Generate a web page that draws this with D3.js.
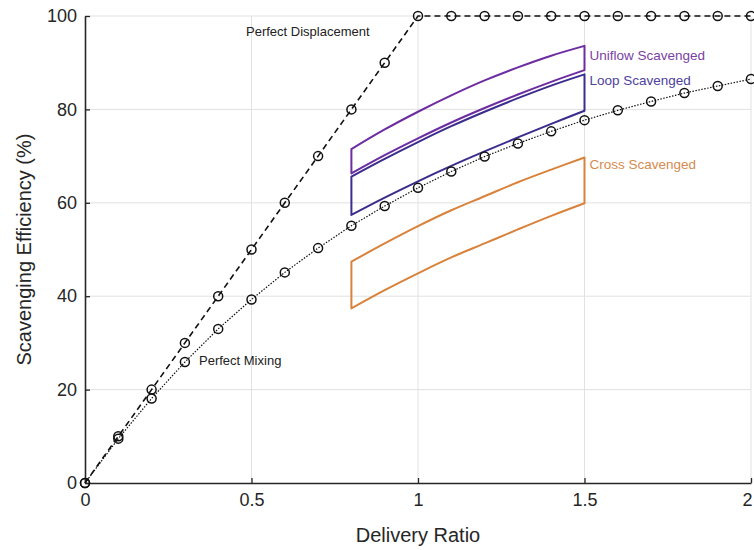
<!DOCTYPE html>
<html>
<head>
<meta charset="utf-8">
<script src="https://cdn.jsdelivr.net/npm/d3@7"></script>
<style>
  body { margin: 0; background: #fff; }
  svg { font-family: "Liberation Sans", Arial, sans-serif; }
</style>
</head>
<body>
<div id="chart"></div>
<script>
// Data
const ratio = [0,0.1,0.2,0.3,0.4,0.5,0.6,0.7,0.8,0.9,1.0,1.1,1.2,1.3,1.4,1.5,1.6,1.7,1.8,1.9,2.0];
const displacement = [0,10,20,30,40,50,60,70,80,90,100,100,100,100,100,100,100,100,100,100,100];
const mixing = [0,9.5,18.1,25.9,33.0,39.3,45.1,50.3,55.1,59.3,63.2,66.7,69.9,72.7,75.3,77.7,79.8,81.7,83.5,85.0,86.5];

const bandX = [0.8,0.9,1.0,1.1,1.2,1.3,1.4,1.5];
const uniflowHigh = [71.5,75.7,79.5,83.0,86.2,89.0,91.5,93.6];
const uniflowLow  = [66.3,70.2,73.8,77.2,80.3,83.2,85.9,88.4];
const loopHigh    = [65.6,69.4,73.0,76.4,79.5,82.4,85.1,87.5];
const loopLow     = [57.4,61.1,64.6,67.9,71.0,74.0,76.9,79.7];
const crossHigh   = [47.4,51.3,55.0,58.4,61.4,64.4,67.1,69.7];
const crossLow    = [37.4,41.3,44.9,48.3,51.3,54.3,57.2,59.9];

const xTicks = [0,0.5,1,1.5,2];
const yTicks = [0,20,40,60,80,100];

// Set Dimensions
const width = 754, height = 550;
const plotLeft = 85, plotRight = 751, plotTop = 16, plotBottom = 483;

var svg = d3.select("#chart").append("svg")
  .attr("width", width)
  .attr("height", height);

var xScale = d3.scaleLinear().domain([0, 2]).range([plotLeft, plotRight]);
var yScale = d3.scaleLinear().domain([0, 100]).range([plotBottom, plotTop]);

// grid
svg.append("g")
  .selectAll("line")
  .data(xTicks.slice(1))
  .enter().append("line")
    .attr("x1", d => xScale(d)).attr("x2", d => xScale(d))
    .attr("y1", plotTop).attr("y2", plotBottom)
    .attr("stroke", "#e1e1e1").attr("stroke-width", 1);

svg.append("g")
  .selectAll("line")
  .data(yTicks.slice(1))
  .enter().append("line")
    .attr("x1", plotLeft).attr("x2", plotRight)
    .attr("y1", d => yScale(d)).attr("y2", d => yScale(d))
    .attr("stroke", "#e1e1e1").attr("stroke-width", 1);

// X Axis (ticks pointing inward)
var xAxis = svg.append("g")
  .attr("transform", "translate(0," + plotBottom + ")")
  .call(d3.axisBottom(xScale).tickValues(xTicks).tickFormat(d3.format("")).tickSizeInner(-5).tickSizeOuter(0).tickPadding(10));

// Y Axis
var yAxis = svg.append("g")
  .attr("transform", "translate(" + plotLeft + ",0)")
  .call(d3.axisLeft(yScale).tickValues(yTicks).tickSizeInner(-5).tickSizeOuter(0).tickPadding(8));

[xAxis, yAxis].forEach(function(a) {
  a.select(".domain").attr("stroke", "#262626").attr("stroke-width", 1.6);
  a.selectAll(".tick line").attr("stroke", "#262626").attr("stroke-width", 1.3);
  a.selectAll(".tick text").attr("fill", "#262626").style("font-size", "18px")
    .style("font-family", "'Liberation Sans', Arial, sans-serif");
});
// last x label sits at the window edge; keep it inside
xAxis.selectAll(".tick text").filter(d => d === 2).attr("text-anchor", "end").attr("dx", 1);

// axis titles
svg.append("text")
  .attr("x", xScale(1))
  .attr("y", 542)
  .attr("text-anchor", "middle")
  .attr("fill", "#262626")
  .style("font-size", "20px")
  .text("Delivery Ratio");

svg.append("text")
  .attr("transform", "translate(31," + yScale(50) + ") rotate(-90)")
  .attr("text-anchor", "middle")
  .attr("fill", "#262626")
  .style("font-size", "20px")
  .text("Scavenging Efficiency (%)");

// Scavenging bands (closed outlines)
var bands = [
  { name: "Cross Scavenged",   hi: crossHigh,   lo: crossLow,   color: "#d9823b", text: "#d58b4e", ly: 68.3 },
  { name: "Loop Scavenged",    hi: loopHigh,    lo: loopLow,    color: "#3c2c8e", text: "#4d429c", ly: 86.3 },
  { name: "Uniflow Scavenged", hi: uniflowHigh, lo: uniflowLow, color: "#6d2ca0", text: "#7a3fa3", ly: 91.6 }
];

var smooth = d3.line()
  .x(d => xScale(d[0]))
  .y(d => yScale(d[1]))
  .curve(d3.curveCatmullRom);

bands.forEach(function(b) {
  var upper = bandX.map((x, i) => [x, b.hi[i]]);
  var lower = bandX.map((x, i) => [x, b.lo[i]]).reverse();
  var d = smooth(upper) + "L" + smooth(lower).slice(1) + "Z";
  svg.append("path")
    .attr("d", d)
    .attr("fill", "none")
    .attr("stroke", b.color)
    .attr("stroke-width", 2)
    .attr("stroke-linejoin", "round");
  svg.append("text")
    .attr("x", xScale(1.5) + 5)
    .attr("y", yScale(b.ly))
    .attr("dy", "0.35em")
    .attr("fill", b.text)
    .style("font-size", "13.5px")
    .text(b.name);
});

// Perfect mixing (dotted) and perfect displacement (dashed)
var line = d3.line()
  .x(d => xScale(d[0]))
  .y(d => yScale(d[1]));

var mixPts = ratio.map((x, i) => [x, mixing[i]]);
var dispPts = ratio.map((x, i) => [x, displacement[i]]);

svg.append("path")
  .datum(mixPts)
  .attr("d", line)
  .attr("fill", "none")
  .attr("stroke", "#111")
  .attr("stroke-width", 1.2)
  .attr("stroke-dasharray", "1.5,1.5");

svg.append("path")
  .datum(dispPts)
  .attr("d", line)
  .attr("fill", "none")
  .attr("stroke", "#111")
  .attr("stroke-width", 1.6)
  .attr("stroke-dasharray", "6,4");

[mixPts, dispPts].forEach(function(pts) {
  svg.append("g")
    .selectAll("circle")
    .data(pts)
    .enter().append("circle")
      .attr("cx", d => xScale(d[0]))
      .attr("cy", d => yScale(d[1]))
      .attr("r", 4.5)
      .attr("fill", "none")
      .attr("stroke", "#111")
      .attr("stroke-width", 1.5);
});

// curve labels
svg.append("text")
  .attr("x", 246).attr("y", yScale(96.7))
  .attr("dy", "0.35em")
  .attr("fill", "#222")
  .style("font-size", "13px")
  .text("Perfect Displacement");

svg.append("text")
  .attr("x", 199).attr("y", yScale(26.2))
  .attr("dy", "0.35em")
  .attr("fill", "#222")
  .style("font-size", "13px")
  .text("Perfect Mixing");
</script>
</body>
</html>
